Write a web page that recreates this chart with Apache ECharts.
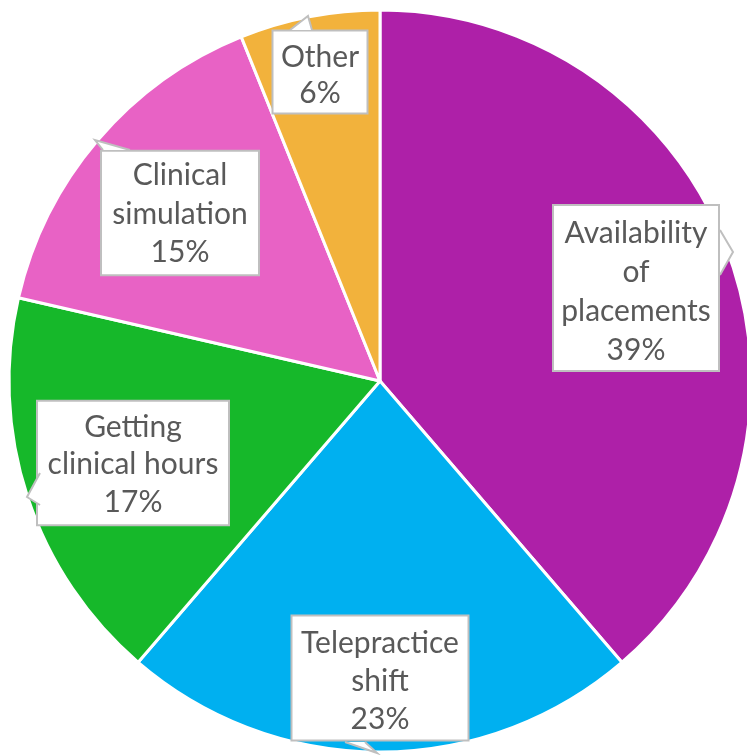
<!DOCTYPE html>
<html>
<head>
<meta charset="utf-8">
<script src="https://cdn.jsdelivr.net/npm/echarts@6/dist/echarts.min.js"></script>
<style>
  html, body { margin: 0; padding: 0; background: #fff; }
  #chart { width: 747px; height: 755px; }
</style>
</head>
<body>
<div id="chart"></div>
<script>
const categories = ['Availability\nof\nplacements', 'Telepractice\nshift', 'Getting\nclinical hours', 'Clinical\nsimulation', 'Other']
const values = [38.7, 22.6, 17.3, 15.3, 6.1]
const colors = ['#AE20A8', '#00B0F0', '#16B82A', '#E862C5', '#F2B23C']

// callout boxes: centre, width, line height, top spacer, padding
const boxes = [
  { x: 636, y: 288, w: 168, lh: 39, sp: 8, pad: 0 },
  { x: 380, y: 678, w: 176, lh: 38, sp: 6, pad: 1.5 },
  { x: 133, y: 463, w: 187, lh: 37.5, sp: 3, pad: 3.5 },
  { x: 180, y: 213, w: 155, lh: 38.5, sp: 2, pad: 2.5 },
  { x: 320, y: 72, w: 95, lh: 36, sp: 7, pad: 1 }
]

// small pointers of the callouts
const pointers = [
  [[720, 230], [733, 252], [720, 275]],
  [[345, 742], [377, 753], [365, 742]],
  [[40, 473], [27, 497], [40, 505]],
  [[103, 150], [95, 140], [130, 150]],
  [[290, 30], [308, 16], [312, 30]]
]

const pointerGraphics = []
pointers.forEach(pts => {
  pointerGraphics.push({ type: 'polygon', z: 100, shape: { points: pts }, style: { fill: '#fff' } })
  pointerGraphics.push({ type: 'polyline', z: 101, shape: { points: pts }, style: { stroke: '#BFBFBF', lineWidth: 2, fill: null } })
})

const chart = echarts.init(document.getElementById('chart'))
chart.setOption({
  backgroundColor: '#fff',
  animation: false,
  graphic: pointerGraphics,
  series: [{
    type: 'pie',
    center: [380, 381],
    radius: 371,
    startAngle: 90,
    clockwise: true,
    data: values.map((v, i) => ({
      name: categories[i],
      value: v,
      itemStyle: { color: colors[i] },
      label: {
        width: boxes[i].w - 4,
        padding: boxes[i].pad,
        rich: {
          s: { fontSize: 1, lineHeight: boxes[i].sp },
          t: { fontFamily: 'Lato', fontSize: 30, color: '#595959', lineHeight: boxes[i].lh, align: 'center' }
        }
      }
    })),
    itemStyle: { borderColor: '#fff', borderWidth: 3 },
    label: {
      show: true,
      position: 'inside',
      formatter: p => '{s| }\n' + (p.name + '\n' + Math.round(p.percent) + '%').split('\n').map(l => '{t|' + l + '}').join('\n'),
      fontFamily: 'Lato',
      fontSize: 30,
      color: '#595959',
      backgroundColor: '#fff',
      borderColor: '#BFBFBF',
      borderWidth: 2,
      align: 'center',
      verticalAlign: 'middle'
    },
    labelLine: { show: false },
    labelLayout: p => ({
      x: boxes[p.dataIndex].x,
      y: boxes[p.dataIndex].y,
      align: 'center',
      verticalAlign: 'middle'
    })
  }]
})
</script>
</body>
</html>
